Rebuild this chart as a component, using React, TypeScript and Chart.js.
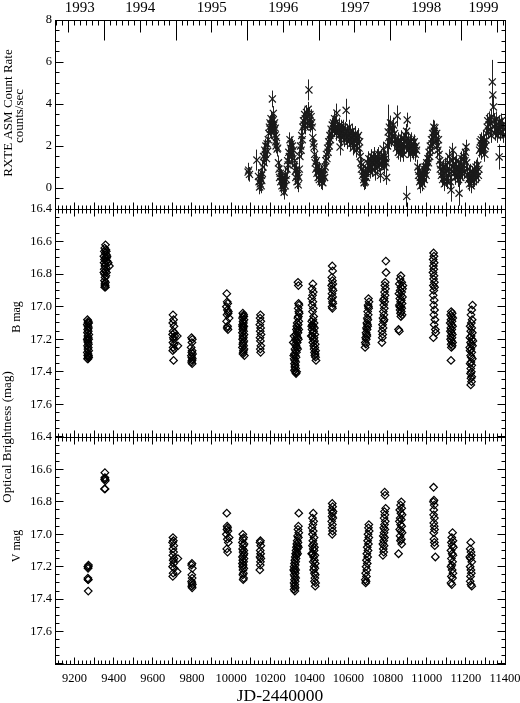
import React, { useEffect, useRef } from 'react';
import { Chart, registerables } from 'chart.js';

Chart.register(...registerables);

const SERIF = "'Liberation Serif', 'Times New Roman', Times, serif";

const JD_MIN = 9100;
const JD_MAX = 11400;
const JD_LABELS = [9200, 9400, 9600, 9800, 10000, 10200, 10400, 10600, 10800, 11000, 11200, 11400];
const RATE_LABELS = [0, 2, 4, 6, 8];
const MAG_LABELS = [16.4, 16.6, 16.8, 17.0, 17.2, 17.4, 17.6];
const YEARS = ['1993', '1994', '1995', '1996', '1997', '1998', '1999'];
const YEAR_START_JD = [8988.5, 9353.5, 9718.5, 10083.5, 10449.5, 10814.5, 11179.5, 11544.5];
const MONTH_DAYS = [31, 28, 31, 30, 31, 30, 31, 31, 30, 31, 30, 31];

// RXTE ASM: [JD-2440000, counts/sec, error (optional)]
const ASM: number[][] = [
  [10087, 0.76, 0.4], [10090, 0.85], [10094, 0.65],
  [10132, 1.33, 0.5], [10140, 0.55], [10143, 0.3], [10146, 0.05], [10149, 0.2], [10151, 0.45], [10154, 0.1], [10155, 0.6], [10157, 0.35], [10160, 0.7],
  [10163, 1.0], [10166, 1.5], [10169, 1.2], [10172, 1.8], [10175, 1.6], [10178, 2.0], [10181, 1.4], [10184, 2.1], [10187, 1.75], [10190, 2.3],
  [10193, 2.6], [10196, 2.9], [10199, 3.1], [10201, 2.8], [10204, 3.3], [10206, 3.0], [10208, 2.7], [10211, 4.24, 0.4], [10212, 3.2], [10214, 2.9], [10216, 3.55], [10218, 3.0], [10220, 2.75], [10222, 3.1], [10224, 2.5], [10226, 2.85], [10228, 2.2], [10230, 2.0], [10232, 2.4], [10235, 1.85], [10238, 1.9],
  [10242, 1.2], [10245, 0.9], [10248, 0.5], [10251, 0.7], [10254, 0.3], [10257, 0.55], [10260, 0.1], [10263, 0.4], [10266, 0.0], [10269, 0.25], [10271, -0.2], [10274, 0.35], [10277, 0.1], [10280, 0.6], [10283, 0.4], [10286, 0.9],
  [10289, 1.3], [10292, 1.1], [10295, 1.7], [10298, 1.5], [10301, 2.3], [10304, 1.9], [10307, 2.1], [10310, 1.6], [10313, 2.0], [10316, 1.4], [10319, 1.8], [10322, 1.1], [10325, 1.3], [10328, 0.8], [10331, 0.5], [10334, 0.9], [10337, 0.3], [10340, 0.6], [10343, 0.15], [10346, 0.5], [10349, 0.9],
  [10352, 1.5], [10355, 2.0], [10358, 1.8], [10361, 2.5], [10364, 2.3], [10367, 2.9], [10370, 3.2], [10373, 3.0], [10376, 3.5], [10379, 3.3], [10382, 2.9], [10385, 3.6], [10388, 3.1], [10391, 3.4], [10394, 3.75], [10398, 4.67, 0.5], [10400, 3.2], [10403, 3.5], [10406, 3.0], [10409, 3.4], [10412, 3.1], [10415, 2.9],
  [10418, 2.4], [10421, 2.1], [10424, 1.95], [10427, 1.6], [10430, 1.2], [10433, 0.9], [10436, 1.3], [10439, 0.7], [10442, 1.0], [10445, 0.5], [10448, 0.8], [10451, 0.4], [10454, 0.9], [10457, 0.6], [10460, 0.3], [10463, 0.75], [10466, 0.45], [10469, 0.25], [10472, 0.6], [10475, 0.9], [10478, 0.5], [10481, 1.0],
  [10484, 1.3], [10487, 1.6], [10490, 1.4], [10493, 1.9], [10496, 1.7], [10499, 2.2], [10502, 2.0], [10505, 2.5], [10508, 2.3], [10511, 2.8], [10514, 2.6], [10517, 3.0], [10520, 2.7], [10523, 3.1], [10526, 2.8], [10529, 3.3], [10532, 2.9], [10535, 3.1], [10538, 2.6], [10541, 3.57, 0.45], [10544, 2.9], [10547, 2.7],
  [10550, 2.8], [10553, 2.5], [10556, 3.0], [10557, 1.95, 0.4], [10560, 2.6], [10563, 2.9], [10566, 2.4], [10569, 2.7], [10572, 2.5], [10575, 2.9], [10578, 2.3], [10581, 2.6], [10584, 2.8], [10588, 3.7, 0.55], [10591, 2.4], [10594, 2.7], [10597, 2.2], [10600, 2.5], [10603, 2.9], [10606, 2.3], [10609, 2.6], [10612, 2.1], [10615, 2.4], [10618, 2.7], [10621, 2.2], [10624, 1.9], [10627, 2.5], [10630, 2.3], [10633, 2.0], [10636, 2.6], [10639, 2.2], [10642, 1.8], [10645, 2.4], [10648, 2.1], [10651, 2.5], [10654, 1.9], [10657, 2.2],
  [10660, 1.5], [10663, 1.2], [10666, 0.9], [10669, 1.1], [10672, 0.6], [10675, 0.8], [10678, 0.4], [10680, 0.25], [10683, 0.5], [10686, 0.3], [10689, 0.7], [10692, 0.5], [10695, 0.9],
  [10698, 1.2], [10701, 0.9], [10704, 1.4], [10707, 1.1], [10710, 0.8], [10713, 1.3], [10716, 1.0], [10719, 1.5], [10722, 1.2], [10725, 0.9], [10728, 1.4], [10731, 1.1], [10734, 1.6], [10737, 1.3], [10740, 0.7], [10743, 1.2], [10746, 1.5], [10749, 1.0], [10752, 1.3], [10755, 1.6], [10758, 1.1], [10761, 1.4], [10764, 0.6], [10767, 1.2], [10770, 1.5], [10773, 1.3], [10777, 1.86], [10780, 1.2], [10783, 1.5], [10786, 1.0], [10789, 1.4], [10792, 1.2], [10795, 0.5],
  [10800, 2.0], [10803, 2.67, 1.3], [10806, 2.4], [10809, 2.9], [10812, 2.2], [10815, 3.1], [10818, 2.6], [10821, 2.3], [10824, 2.8], [10827, 2.5], [10830, 3.0], [10833, 2.2], [10836, 2.6],
  [10842, 2.3], [10845, 1.9], [10849, 3.43, 0.5], [10852, 2.1], [10855, 1.7], [10858, 2.3], [10861, 2.0], [10864, 1.6], [10867, 2.2], [10870, 1.9], [10873, 2.4], [10876, 1.8], [10879, 2.1], [10882, 1.6], [10885, 2.2], [10888, 1.9], [10891, 2.5], [10894, 2.0], [10897, 2.7], [10898, -0.4, 0.5], [10900, 3.24, 0.35], [10903, 2.1], [10906, 1.8], [10909, 2.3], [10912, 1.9], [10915, 2.2], [10918, 1.6], [10921, 2.0], [10924, 2.3], [10927, 1.8], [10930, 2.1], [10933, 1.7], [10936, 2.2], [10939, 1.9], [10942, 1.6], [10945, 2.0], [10948, 1.8],
  [10955, 1.0], [10958, 0.6], [10961, 0.8], [10964, 0.3], [10967, 0.5], [10970, 0.1], [10973, 0.4], [10976, 0.7], [10979, 0.2], [10982, 0.5], [10985, 0.9], [10988, 0.4], [10991, 0.7], [10994, 1.0], [10997, 0.6], [11000, 1.2],
  [11003, 1.0], [11006, 1.4], [11009, 1.2], [11012, 1.7], [11015, 1.5], [11018, 2.0], [11021, 1.8], [11024, 2.3], [11027, 2.1], [11030, 2.6], [11033, 2.4], [11036, 2.9], [11039, 2.7], [11042, 2.86], [11045, 2.5], [11048, 2.2], [11051, 2.6], [11054, 2.0], [11057, 1.8], [11060, 2.3], [11063, 1.6],
  [11066, 1.3], [11069, 0.9], [11072, 1.1], [11075, 0.6], [11078, 0.8], [11081, 0.4], [11084, 1.0], [11087, 0.5], [11090, 0.2], [11093, 0.7], [11096, 1.1], [11099, 0.4], [11102, 0.8], [11105, 0.3], [11108, 1.2], [11111, 0.6], [11114, 1.5], [11117, 0.9], [11120, 0.3], [11124, -0.1, 0.55], [11127, 0.8], [11130, 1.3], [11133, 1.8], [11136, 1.0],
  [11139, 1.4], [11142, 0.7], [11145, 1.1], [11148, 0.5], [11151, 0.9], [11154, 1.3], [11157, 0.6], [11160, 1.0], [11163, 0.4], [11165, -0.25, 0.6], [11168, 0.8], [11171, 1.2], [11174, 0.5], [11177, 0.9], [11180, 1.4], [11183, 0.7], [11186, 1.1], [11189, 1.5], [11192, 0.8], [11195, 1.3], [11198, 1.7], [11201, 1.95], [11204, 1.2], [11207, 0.6], [11210, 0.9],
  [11213, 0.4], [11216, 0.7], [11219, 0.2], [11222, 0.5], [11225, 0.8], [11228, 0.1], [11231, 0.45], [11234, 0.7], [11237, 0.3], [11240, 0.6], [11243, 0.9], [11246, 0.4], [11249, 0.7], [11252, 1.0], [11255, 0.5], [11258, 0.8], [11261, 1.1], [11264, 0.6], [11267, 0.9],
  [11270, 1.8], [11273, 2.2], [11276, 1.9], [11279, 2.3], [11282, 1.7], [11285, 2.1], [11288, 2.4], [11291, 1.9], [11294, 2.2], [11297, 1.6], [11300, 2.0], [11303, 2.3],
  [11306, 2.6], [11309, 2.9], [11312, 3.2], [11315, 2.7], [11318, 3.0], [11321, 3.3], [11324, 2.8], [11327, 3.1], [11330, 2.5], [11333, 3.4], [11335, 5.05, 1.05], [11338, 4.43, 0.6], [11341, 3.86, 0.5], [11344, 2.9], [11347, 3.2], [11350, 2.6], [11353, 3.0], [11356, 2.8], [11359, 3.3], [11362, 2.5], [11365, 2.9], [11368, 2.7], [11370, 1.48, 0.6], [11373, 3.1], [11376, 2.6], [11379, 2.9], [11382, 3.2], [11385, 2.7], [11388, 3.0], [11391, 2.5], [11394, 2.8],
];

// B magnitude: [JD-2440000, mag]
const B_MAG: number[][] = [
  [9266, 17.08], [9270, 17.09], [9268, 17.1], [9272, 17.1], [9265, 17.11], [9269, 17.12], [9271, 17.13], [9267, 17.14], [9270, 17.15], [9266, 17.16], [9273, 17.17], [9268, 17.18], [9270, 17.19], [9265, 17.2], [9272, 17.2], [9267, 17.21], [9269, 17.22], [9271, 17.23], [9266, 17.24], [9270, 17.25], [9268, 17.26], [9272, 17.27], [9265, 17.28], [9269, 17.29], [9271, 17.3], [9267, 17.3], [9270, 17.31], [9266, 17.32], [9269, 17.32], [9272, 17.31],
  [9358, 16.62], [9354, 16.64], [9360, 16.65], [9352, 16.66], [9357, 16.67], [9362, 16.68], [9350, 16.69], [9356, 16.7], [9364, 16.7], [9353, 16.71], [9359, 16.72], [9366, 16.72], [9351, 16.73], [9357, 16.74], [9372, 16.73], [9378, 16.75], [9355, 16.75], [9361, 16.76], [9352, 16.77], [9358, 16.78], [9363, 16.79], [9354, 16.8], [9360, 16.81], [9356, 16.82], [9353, 16.84], [9358, 16.85], [9355, 16.86], [9356, 16.87], [9354, 16.88], [9358, 16.88], [9362, 16.66], [9366, 16.69], [9350, 16.79],
  [9703, 17.05], [9706, 17.08], [9702, 17.1], [9708, 17.12], [9704, 17.15], [9710, 17.16], [9701, 17.17], [9712, 17.18], [9705, 17.19], [9707, 17.2], [9703, 17.22], [9709, 17.23], [9725, 17.18], [9728, 17.24], [9704, 17.25], [9708, 17.26], [9702, 17.27], [9706, 17.33],
  [9798, 17.19], [9802, 17.2], [9800, 17.22], [9796, 17.25], [9801, 17.27], [9803, 17.29], [9797, 17.3], [9799, 17.31], [9802, 17.32], [9800, 17.33], [9798, 17.34], [9801, 17.35], [9799, 17.28],
  [9978, 16.92], [9980, 16.97], [9983, 16.98], [9976, 17.0], [9981, 17.02], [9985, 17.04], [9979, 17.05], [9990, 17.07], [9977, 17.09], [9982, 17.12], [9980, 17.13], [9984, 17.14], [9986, 17.03],
  [10060, 17.04], [10064, 17.05], [10062, 17.06], [10058, 17.07], [10066, 17.08], [10061, 17.09], [10063, 17.1], [10059, 17.11], [10065, 17.12], [10062, 17.13], [10060, 17.14], [10064, 17.15], [10058, 17.16], [10066, 17.17], [10061, 17.18], [10063, 17.19], [10059, 17.2], [10065, 17.21], [10062, 17.22], [10060, 17.23], [10064, 17.24], [10058, 17.25], [10066, 17.26], [10063, 17.27], [10061, 17.29], [10068, 17.3], [10062, 17.28], [10059, 17.12], [10065, 17.06],
  [10150, 17.05], [10148, 17.07], [10152, 17.09], [10147, 17.11], [10151, 17.13], [10149, 17.15], [10153, 17.17], [10148, 17.19], [10150, 17.21], [10152, 17.24], [10149, 17.26], [10151, 17.28],
  [10342, 16.85], [10344, 16.87], [10345, 16.98], [10347, 16.99], [10343, 17.01], [10346, 17.03], [10348, 17.04], [10344, 17.06], [10341, 17.07], [10346, 17.09], [10338, 17.1], [10343, 17.11], [10336, 17.12], [10340, 17.13], [10334, 17.14], [10338, 17.15], [10342, 17.16], [10332, 17.17], [10336, 17.18], [10340, 17.19], [10330, 17.2], [10334, 17.21], [10338, 17.22], [10328, 17.23], [10332, 17.24], [10336, 17.25], [10326, 17.26], [10330, 17.27], [10334, 17.28], [10324, 17.29], [10328, 17.3], [10332, 17.31], [10322, 17.32], [10326, 17.33], [10330, 17.34], [10324, 17.35], [10328, 17.36], [10326, 17.37], [10330, 17.38], [10324, 17.39], [10328, 17.4], [10332, 17.41], [10335, 17.4], [10320, 17.3], [10318, 17.22], [10340, 17.26], [10344, 17.2], [10322, 17.18], [10346, 17.14],
  [10418, 16.86], [10414, 16.89], [10420, 16.91], [10416, 16.93], [10412, 16.95], [10418, 16.97], [10414, 16.99], [10420, 17.01], [10416, 17.03], [10422, 17.06], [10418, 17.08], [10412, 17.09], [10424, 17.1], [10416, 17.11], [10420, 17.12], [10426, 17.13], [10414, 17.14], [10422, 17.15], [10418, 17.16], [10428, 17.17], [10416, 17.18], [10424, 17.19], [10420, 17.2], [10426, 17.21], [10418, 17.22], [10430, 17.23], [10422, 17.24], [10428, 17.25], [10424, 17.26], [10432, 17.27], [10426, 17.28], [10430, 17.29], [10428, 17.3], [10432, 17.31], [10434, 17.33], [10412, 17.12], [10410, 17.18],
  [10517, 16.75], [10519, 16.78], [10515, 16.82], [10518, 16.84], [10520, 16.86], [10514, 16.87], [10517, 16.89], [10521, 16.9], [10516, 16.92], [10519, 16.94], [10514, 16.95], [10518, 16.97], [10520, 16.98], [10516, 17.0], [10518, 17.01],
  [10702, 16.95], [10705, 16.97], [10700, 16.99], [10703, 17.01], [10698, 17.03], [10701, 17.05], [10696, 17.07], [10699, 17.08], [10694, 17.1], [10697, 17.11], [10692, 17.13], [10695, 17.14], [10690, 17.16], [10693, 17.17], [10688, 17.19], [10691, 17.2], [10686, 17.22], [10689, 17.23], [10685, 17.25], [10694, 17.18], [10698, 17.12], [10702, 17.0],
  [10791, 16.72], [10792, 16.79], [10788, 16.85], [10786, 16.87], [10789, 16.89], [10784, 16.91], [10787, 16.93], [10782, 16.95], [10785, 16.97], [10780, 16.99], [10783, 17.01], [10778, 17.03], [10781, 17.05], [10776, 17.07], [10779, 17.09], [10774, 17.11], [10777, 17.13], [10772, 17.15], [10775, 17.17], [10773, 17.19], [10771, 17.22], [10778, 16.96], [10782, 17.08],
  [10868, 16.81], [10864, 16.83], [10872, 16.85], [10860, 16.86], [10868, 16.88], [10876, 16.89], [10864, 16.9], [10872, 16.91], [10858, 16.92], [10868, 16.93], [10876, 16.94], [10862, 16.95], [10870, 16.96], [10866, 16.97], [10874, 16.98], [10860, 16.99], [10868, 17.0], [10872, 17.01], [10864, 17.02], [10870, 17.03], [10866, 17.04], [10874, 17.05], [10868, 17.06], [10856, 17.14], [10860, 17.15], [10878, 16.87], [10862, 17.0],
  [11035, 16.67], [11037, 16.69], [11033, 16.71], [11038, 16.73], [11034, 16.75], [11036, 16.77], [11032, 16.79], [11037, 16.81], [11035, 16.83], [11039, 16.85], [11034, 16.87], [11036, 16.9], [11033, 16.93], [11038, 16.96], [11035, 16.99], [11040, 17.02], [11036, 17.05], [11042, 17.08], [11038, 17.11], [11044, 17.14], [11046, 17.16], [11034, 17.19], [11040, 16.88],
  [11125, 17.03], [11130, 17.04], [11122, 17.05], [11128, 17.06], [11133, 17.07], [11124, 17.08], [11129, 17.09], [11120, 17.1], [11127, 17.11], [11132, 17.12], [11123, 17.13], [11128, 17.14], [11121, 17.15], [11126, 17.16], [11131, 17.17], [11124, 17.18], [11129, 17.19], [11122, 17.2], [11127, 17.21], [11132, 17.22], [11125, 17.23], [11130, 17.24], [11126, 17.25], [11124, 17.33],
  [11234, 16.99], [11230, 17.02], [11226, 17.05], [11232, 17.08], [11228, 17.1], [11222, 17.12], [11230, 17.13], [11225, 17.15], [11233, 17.16], [11227, 17.18], [11221, 17.19], [11231, 17.2], [11224, 17.22], [11229, 17.23], [11234, 17.24], [11226, 17.26], [11222, 17.27], [11230, 17.28], [11224, 17.3], [11228, 17.31], [11233, 17.32], [11226, 17.34], [11222, 17.35], [11230, 17.36], [11225, 17.38], [11228, 17.4], [11224, 17.41], [11230, 17.43], [11226, 17.44], [11229, 17.46], [11225, 17.48], [11220, 17.25], [11236, 17.21],
];

// V magnitude: [JD-2440000, mag]
const V_MAG: number[][] = [
  [9268, 17.2], [9270, 17.2], [9269, 17.21], [9271, 17.19], [9268, 17.27], [9270, 17.28], [9269, 17.28], [9270, 17.35],
  [9355, 16.62], [9356, 16.66], [9354, 16.66], [9357, 16.67], [9355, 16.65], [9353, 16.72], [9356, 16.72],
  [9703, 17.02], [9705, 17.04], [9701, 17.05], [9707, 17.07], [9703, 17.09], [9706, 17.11], [9702, 17.13], [9708, 17.15], [9728, 17.15], [9704, 17.16], [9706, 17.18], [9701, 17.2], [9709, 17.21], [9724, 17.23], [9704, 17.24], [9702, 17.26],
  [9800, 17.18], [9798, 17.19], [9802, 17.21], [9799, 17.25], [9801, 17.27], [9798, 17.29], [9800, 17.3], [9802, 17.31], [9799, 17.32], [9801, 17.33],
  [9978, 16.87], [9980, 16.95], [9982, 16.96], [9979, 16.97], [9984, 16.98], [9976, 17.0], [9990, 17.02], [9981, 17.03], [9986, 17.05], [9978, 17.09], [9982, 17.11],
  [10060, 17.0], [10064, 17.02], [10061, 17.03], [10058, 17.05], [10066, 17.06], [10062, 17.07], [10059, 17.09], [10065, 17.1], [10061, 17.11], [10063, 17.13], [10058, 17.14], [10066, 17.15], [10060, 17.16], [10064, 17.17], [10062, 17.19], [10059, 17.2], [10065, 17.21], [10061, 17.22], [10063, 17.24], [10060, 17.25], [10064, 17.27], [10062, 17.28], [10066, 17.12], [10058, 17.18],
  [10150, 17.04], [10148, 17.05], [10152, 17.07], [10149, 17.1], [10151, 17.12], [10148, 17.14], [10152, 17.15], [10150, 17.17], [10149, 17.19], [10147, 17.22],
  [10346, 16.87], [10344, 16.95], [10342, 16.97], [10346, 16.99], [10340, 17.01], [10344, 17.02], [10338, 17.04], [10342, 17.05], [10336, 17.06], [10340, 17.07], [10334, 17.08], [10338, 17.09], [10332, 17.1], [10336, 17.11], [10330, 17.12], [10334, 17.13], [10328, 17.14], [10332, 17.15], [10326, 17.16], [10330, 17.17], [10324, 17.18], [10328, 17.19], [10322, 17.2], [10326, 17.21], [10330, 17.22], [10324, 17.23], [10328, 17.24], [10322, 17.25], [10326, 17.26], [10330, 17.27], [10324, 17.28], [10328, 17.29], [10322, 17.3], [10326, 17.31], [10324, 17.32], [10328, 17.33], [10322, 17.34], [10326, 17.35], [10340, 17.12], [10344, 17.08], [10320, 17.22],
  [10420, 16.87], [10416, 16.9], [10422, 16.92], [10418, 16.94], [10414, 16.96], [10420, 16.98], [10416, 17.0], [10424, 17.02], [10418, 17.04], [10422, 17.06], [10416, 17.07], [10426, 17.08], [10420, 17.09], [10424, 17.1], [10418, 17.12], [10428, 17.13], [10422, 17.14], [10426, 17.16], [10420, 17.17], [10430, 17.18], [10424, 17.2], [10428, 17.21], [10422, 17.22], [10426, 17.24], [10430, 17.25], [10428, 17.27], [10426, 17.29], [10430, 17.32], [10432, 17.3], [10412, 17.12],
  [10517, 16.81], [10519, 16.83], [10515, 16.85], [10518, 16.87], [10516, 16.89], [10520, 16.9], [10514, 16.92], [10518, 16.94], [10516, 16.96], [10519, 16.98], [10517, 17.0], [10521, 16.86],
  [10704, 16.94], [10702, 16.96], [10706, 16.98], [10700, 17.0], [10704, 17.02], [10698, 17.04], [10702, 17.06], [10696, 17.08], [10700, 17.1], [10694, 17.12], [10698, 17.14], [10692, 17.16], [10696, 17.18], [10690, 17.2], [10694, 17.22], [10688, 17.24], [10692, 17.26], [10686, 17.28], [10688, 17.3], [10690, 17.29],
  [10785, 16.74], [10787, 16.76], [10790, 16.84], [10786, 16.88], [10782, 16.9], [10788, 16.92], [10784, 16.94], [10780, 16.96], [10786, 16.97], [10782, 16.99], [10778, 17.01], [10784, 17.02], [10780, 17.04], [10776, 17.06], [10782, 17.07], [10778, 17.09], [10780, 17.11], [10776, 17.13], [10784, 16.86],
  [10870, 16.8], [10866, 16.82], [10872, 16.84], [10862, 16.85], [10868, 16.87], [10874, 16.88], [10864, 16.9], [10870, 16.91], [10860, 16.92], [10866, 16.94], [10872, 16.95], [10862, 16.97], [10868, 16.98], [10874, 16.99], [10864, 17.01], [10870, 17.03], [10866, 17.04], [10872, 17.06], [10856, 17.12],
  [11035, 16.71], [11037, 16.79], [11034, 16.8], [11038, 16.82], [11036, 16.85], [11035, 16.88], [11039, 16.9], [11036, 16.93], [11038, 16.95], [11040, 16.97], [11037, 17.03], [11039, 17.05], [11041, 17.07], [11044, 17.14], [11036, 16.99],
  [11132, 16.99], [11128, 17.02], [11134, 17.04], [11126, 17.05], [11130, 17.07], [11136, 17.08], [11124, 17.1], [11130, 17.12], [11134, 17.13], [11126, 17.15], [11132, 17.17], [11128, 17.19], [11124, 17.2], [11130, 17.22], [11134, 17.24], [11126, 17.26], [11132, 17.27], [11124, 17.3], [11128, 17.31],
  [11225, 17.05], [11222, 17.09], [11226, 17.11], [11228, 17.13], [11224, 17.15], [11230, 17.17], [11222, 17.2], [11226, 17.22], [11228, 17.24], [11224, 17.26], [11222, 17.29], [11226, 17.31], [11230, 17.32], [11220, 17.14],
];

const DEFAULT_ERR = 0.35;

function crisp(v: number) {
  return Math.floor(v) + 0.5;
}

const panelPlugin = {
  id: 'panelAxes',
  beforeDatasetsDraw(chart: any) {
    const ctx = chart.ctx;
    const xs = chart.scales.x;
    const ya = chart.scales.yA;
    ctx.save();
    ctx.beginPath();
    ctx.rect(chart.chartArea.left, ya.top, chart.chartArea.right - chart.chartArea.left, ya.bottom - ya.top);
    ctx.clip();
    ctx.strokeStyle = '#222';
    ctx.lineWidth = 1;
    ASM.forEach((p) => {
      const err = p.length > 2 ? p[2] : DEFAULT_ERR;
      const px = crisp(xs.getPixelForValue(p[0]));
      ctx.beginPath();
      ctx.moveTo(px, ya.getPixelForValue(p[1] - err));
      ctx.lineTo(px, ya.getPixelForValue(p[1] + err));
      ctx.stroke();
    });
    ctx.restore();
  },
  afterDraw(chart: any) {
    const ctx = chart.ctx;
    const xs = chart.scales.x;
    const panels = [chart.scales.yA, chart.scales.yB, chart.scales.yV];
    const L = crisp(chart.chartArea.left);
    const R = crisp(chart.chartArea.right);
    ctx.save();
    ctx.strokeStyle = '#000';
    ctx.lineWidth = 1;
    const seg = (x1: number, y1: number, x2: number, y2: number) => {
      ctx.beginPath();
      ctx.moveTo(x1, y1);
      ctx.lineTo(x2, y2);
      ctx.stroke();
    };
    panels.forEach((s: any, idx: number) => {
      const T = crisp(s.top);
      const B = crisp(s.bottom);
      ctx.strokeRect(L, T, R - L, B - T);
      if (idx === 0) {
        for (let k = -2; k <= 16; k++) {
          const v = k / 2;
          const major = RATE_LABELS.includes(v);
          const len = major ? 8 : 4;
          const py = crisp(s.getPixelForValue(v));
          seg(L, py, L + len, py);
          seg(R, py, R - len, py);
        }
      } else {
        for (let k = 0; k <= 28; k++) {
          const v = 16.4 + k * 0.05;
          const major = k % 4 === 0;
          const len = major ? 8 : 4;
          const py = crisp(s.getPixelForValue(v));
          seg(L, py, L + len, py);
          seg(R, py, R - len, py);
        }
      }
      for (let jd = JD_MIN; jd <= JD_MAX; jd += 20) {
        const major = jd % 100 === 0;
        const len = major ? 7 : 4;
        const px = crisp(xs.getPixelForValue(jd));
        seg(px, B, px, B - len);
        if (idx > 0) seg(px, T, px, T + len);
      }
      if (idx === 0) {
        YEARS.forEach((y, i) => {
          let jd = YEAR_START_JD[i];
          const leap = Number(y) % 4 === 0;
          for (let m = 0; m < 12; m++) {
            if (jd >= JD_MIN && jd <= JD_MAX) {
              const len = m === 0 ? 20 : m === 6 ? 12 : 5;
              const px = crisp(xs.getPixelForValue(jd));
              seg(px, T, px, T + len);
            }
            jd += MONTH_DAYS[m] + (m === 1 && leap ? 1 : 0);
          }
        });
      }
    });

    ctx.fillStyle = '#000';
    ctx.textAlign = 'center';
    ctx.textBaseline = 'alphabetic';
    ctx.font = `15px ${SERIF}`;
    YEARS.forEach((y, i) => {
      const a = Math.max(YEAR_START_JD[i], JD_MIN);
      const b = Math.min(YEAR_START_JD[i + 1], JD_MAX);
      ctx.fillText(y, xs.getPixelForValue((a + b) / 2), 12);
    });

    ctx.font = `17.5px ${SERIF}`;
    ctx.fillText('JD-2440000', (chart.chartArea.left + chart.chartArea.right) / 2, 701);

    const vtext = (text: string, x: number, y: number, size: number) => {
      ctx.save();
      ctx.translate(x, y);
      ctx.rotate(-Math.PI / 2);
      ctx.font = `${size}px ${SERIF}`;
      ctx.textAlign = 'center';
      ctx.textBaseline = 'middle';
      ctx.fillText(text, 0, 0);
      ctx.restore();
    };
    vtext('RXTE ASM Count Rate', 9, 113, 13);
    vtext('counts/sec', 20, 116, 13);
    vtext('B mag', 17, 317, 12);
    vtext('Optical Brightness (mag)', 8, 437, 13);
    vtext('V mag', 17, 546, 12);
    ctx.restore();
  },
};

export default function App() {
  const ref = useRef<HTMLCanvasElement | null>(null);

  useEffect(() => {
    document.body.style.margin = '0';
    const canvas = ref.current;
    if (!canvas) return;
    Chart.defaults.font.family = SERIF;
    Chart.defaults.color = '#000';

    const tickFont = { family: SERIF, size: 12.5 };
    const yCommon = (extra: any) => ({
      type: 'linear',
      position: 'left',
      stack: 'panels',
      offset: false,
      grid: { display: false, drawTicks: false },
      border: { display: false },
      afterFit: (s: any) => {
        s.width = 55;
        s.paddingTop = 0;
        s.paddingBottom = 0;
      },
      ...extra,
    });

    const chart = new Chart(canvas, {
      type: 'scatter',
      data: {
        datasets: [
          {
            label: 'RXTE ASM',
            data: ASM.map((p) => ({ x: p[0], y: p[1] })),
            yAxisID: 'yA',
            pointStyle: 'crossRot',
            pointRadius: 5,
            borderColor: '#1a1a1a',
            borderWidth: 1.2,
            backgroundColor: '#1a1a1a',
          },
          {
            label: 'B mag',
            data: B_MAG.map((p) => ({ x: p[0], y: p[1] })),
            yAxisID: 'yB',
            pointStyle: 'rectRot',
            pointRadius: 3.8,
            borderColor: '#000',
            borderWidth: 1.2,
            backgroundColor: 'rgba(255,255,255,0)',
          },
          {
            label: 'V mag',
            data: V_MAG.map((p) => ({ x: p[0], y: p[1] })),
            yAxisID: 'yV',
            pointStyle: 'rectRot',
            pointRadius: 3.8,
            borderColor: '#000',
            borderWidth: 1.2,
            backgroundColor: 'rgba(255,255,255,0)',
          },
        ],
      },
      options: {
        responsive: false,
        animation: false,
        devicePixelRatio: 1,
        layout: { padding: { left: 0, right: 15, top: 20, bottom: 0 } },
        plugins: { legend: { display: false }, tooltip: { enabled: false } },
        events: [],
        scales: {
          x: {
            type: 'linear',
            position: 'bottom',
            min: JD_MIN,
            max: JD_MAX,
            grid: { display: false, drawTicks: false },
            border: { display: false },
            ticks: { font: tickFont, color: '#000', padding: 7, maxRotation: 0, autoSkip: false, callback: (v: any) => String(v) },
            afterBuildTicks: (s: any) => {
              s.ticks = JD_LABELS.map((v) => ({ value: v }));
            },
            afterFit: (s: any) => {
              s.height = 39;
              s.paddingLeft = 0;
              s.paddingRight = 0;
            },
          },
          yA: yCommon({
            min: -1,
            max: 8,
            weight: 3,
            stackWeight: 189,
            ticks: { font: tickFont, color: '#000', padding: 3, callback: (v: any) => String(v) },
            afterBuildTicks: (s: any) => {
              s.ticks = RATE_LABELS.map((v) => ({ value: v }));
            },
          }),
          yB: yCommon({
            min: 16.4,
            max: 17.8,
            reverse: true,
            weight: 2,
            stackWeight: 228,
            ticks: { font: tickFont, color: '#000', padding: 3, callback: (v: any) => Number(v).toFixed(1) },
            afterBuildTicks: (s: any) => {
              s.ticks = MAG_LABELS.map((v) => ({ value: v }));
            },
          }),
          yV: yCommon({
            min: 16.4,
            max: 17.8,
            reverse: true,
            weight: 1,
            stackWeight: 227,
            ticks: { font: tickFont, color: '#000', padding: 3, callback: (v: any) => Number(v).toFixed(1) },
            afterBuildTicks: (s: any) => {
              s.ticks = MAG_LABELS.map((v) => ({ value: v }));
            },
          }),
        },
      } as any,
      plugins: [panelPlugin],
    } as any);

    return () => chart.destroy();
  }, []);

  return (
    <div style={{ position: 'absolute', left: 0, top: 0, width: 520, height: 703, background: '#fff' }}>
      <canvas ref={ref} width={520} height={703} style={{ display: 'block' }} />
    </div>
  );
}
